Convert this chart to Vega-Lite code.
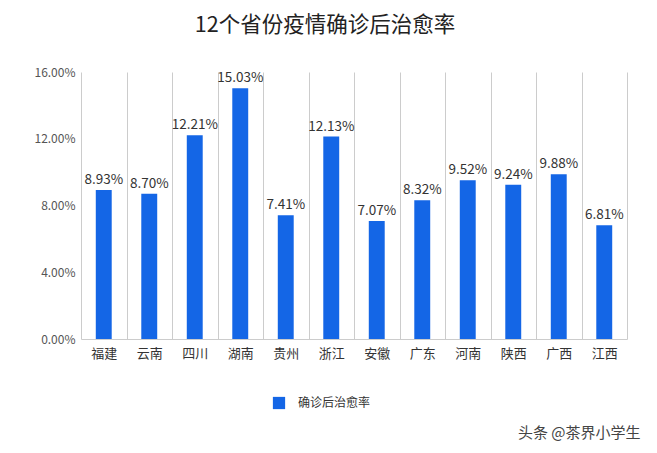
{
  "$schema": "https://vega.github.io/schema/vega-lite/v6.json",
  "autosize": "none",
  "width": 546,
  "height": 267,
  "padding": {"left": 81, "top": 72, "right": 30, "bottom": 114},
  "background": "white",
  "title": {
    "text": "12个省份疫情确诊后治愈率",
    "font": "Noto Sans CJK SC",
    "fontSize": 21.5,
    "fontWeight": "normal",
    "color": "#222222",
    "anchor": "middle",
    "frame": "bounds",
    "dx": -12,
    "offset": 30
  },
  "data": {
    "values": [
      {"province": "福建", "rate": 0.0893},
      {"province": "云南", "rate": 0.0870},
      {"province": "四川", "rate": 0.1221},
      {"province": "湖南", "rate": 0.1503},
      {"province": "贵州", "rate": 0.0741},
      {"province": "浙江", "rate": 0.1213},
      {"province": "安徽", "rate": 0.0707},
      {"province": "广东", "rate": 0.0832},
      {"province": "河南", "rate": 0.0952},
      {"province": "陕西", "rate": 0.0924},
      {"province": "广西", "rate": 0.0988},
      {"province": "江西", "rate": 0.0681}
    ]
  },
  "encoding": {
    "x": {
      "field": "province",
      "type": "nominal",
      "sort": null,
      "scale": {"paddingInner": 0, "paddingOuter": 0},
      "axis": {
        "title": "头条 @茶界小学生",
        "titleFont": "Noto Sans CJK SC",
        "titleFontSize": 15,
        "titleFontWeight": "normal",
        "titleColor": "#444444",
        "titleAnchor": null,
        "titleAlign": "right",
        "titleBaseline": "middle",
        "titleX": 559,
        "titleY": 93,
        "labelAngle": 0,
        "labelFont": "Noto Sans CJK SC",
        "labelFontSize": 13,
        "labelColor": "#333333",
        "labelPadding": 8,
        "ticks": false,
        "tickBand": "extent",
        "grid": true,
        "gridColor": "#cccccc",
        "gridWidth": 1,
        "domain": true,
        "domainColor": "#cccccc"
      }
    },
    "y": {
      "field": "rate",
      "type": "quantitative",
      "scale": {"domain": [0, 0.16], "nice": false},
      "axis": {
        "title": null,
        "values": [0, 0.04, 0.08, 0.12, 0.16],
        "format": ".2%",
        "labelFont": "Noto Sans CJK SC",
        "labelFontSize": 12,
        "labelColor": "#555555",
        "labelPadding": 6,
        "ticks": false,
        "grid": false,
        "domain": false
      }
    }
  },
  "layer": [
    {
      "mark": {"type": "bar", "width": {"band": 0.35}, "color": "#1466e6"},
      "encoding": {
        "color": {
          "datum": "确诊后治愈率",
          "type": "nominal",
          "scale": {"range": ["#1466e6"]},
          "legend": {
            "title": null,
            "orient": "none",
            "legendX": 191,
            "legendY": 324,
            "symbolType": "square",
            "symbolSize": 150,
            "labelFont": "Noto Sans CJK SC",
            "labelFontSize": 12,
            "labelColor": "#333333",
            "labelOffset": 12
          }
        }
      }
    },
    {
      "mark": {
        "type": "text",
        "baseline": "bottom",
        "dy": -3,
        "font": "Noto Sans CJK SC",
        "fontSize": 13.5,
        "color": "#333333"
      },
      "encoding": {
        "text": {"field": "rate", "type": "quantitative", "format": ".2%"}
      }
    }
  ],
  "config": {"view": {"stroke": null}}
}
